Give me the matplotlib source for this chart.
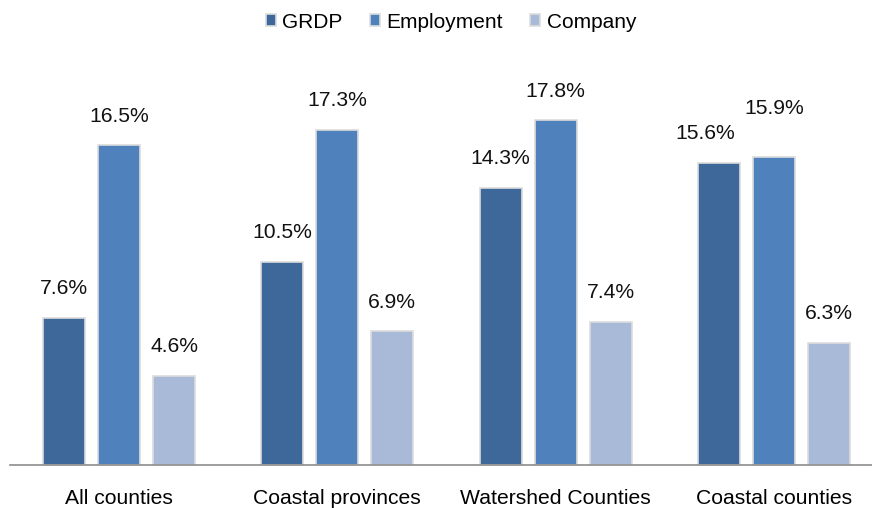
import matplotlib.pyplot as plt
import numpy as np

plt.rcParams["font.family"] = ["Liberation Sans", "DejaVu Sans"]

categories = ["All counties", "Coastal provinces", "Watershed Counties", "Coastal counties"]
series_names = ["GRDP", "Employment", "Company"]
grdp = [7.6, 10.5, 14.3, 15.6]
employment = [16.5, 17.3, 17.8, 15.9]
company = [4.6, 6.9, 7.4, 6.3]
colors = ["#3e6899", "#4f81bd", "#a9b9d8"]

# nudges for the two labels that would collide in the last group (points)
label_nudge = {(0, 3): (-10, 0), (1, 3): (0, 14)}

fig = plt.figure(figsize=(8.72, 5.08), dpi=100)
ax = fig.add_axes([10 / 872, 43 / 508, 862 / 872, 405 / 508])

x = np.arange(len(categories))
width = 0.193
step = 0.252
for i, (name, vals) in enumerate(zip(series_names, [grdp, employment, company])):
    bars = ax.bar(x + (i - 1) * step, vals, width, color=colors[i], label=name,
                  edgecolor="#dcdcdc", linewidth=1.2)
    for j, (b, v) in enumerate(zip(bars, vals)):
        dx, dy = label_nudge.get((i, j), (0, 0))
        ax.annotate(f"{v:.1f}%", (b.get_x() + b.get_width() / 2, v),
                    xytext=(dx, 14 + dy), textcoords="offset points",
                    ha="center", va="bottom", fontsize=15.2, color="#111111")

ax.set_xlim(-0.5, 3.45)
ax.set_ylim(0, 20.9)
ax.set_xticks(x)
ax.set_xticklabels(categories, fontsize=15.2)
ax.tick_params(axis="x", length=0, pad=17)
ax.set_yticks([])
for s in ["top", "right", "left"]:
    ax.spines[s].set_visible(False)
ax.spines["bottom"].set_color("#8c8c8c")
ax.spines["bottom"].set_linewidth(1.2)

fig.legend(loc="upper center", bbox_to_anchor=(0.517, 1.012), ncol=3, frameon=False,
           fontsize=15, handlelength=0.5, handleheight=0.5, handletextpad=0.3,
           columnspacing=1.3)

fig.savefig("out.png")
